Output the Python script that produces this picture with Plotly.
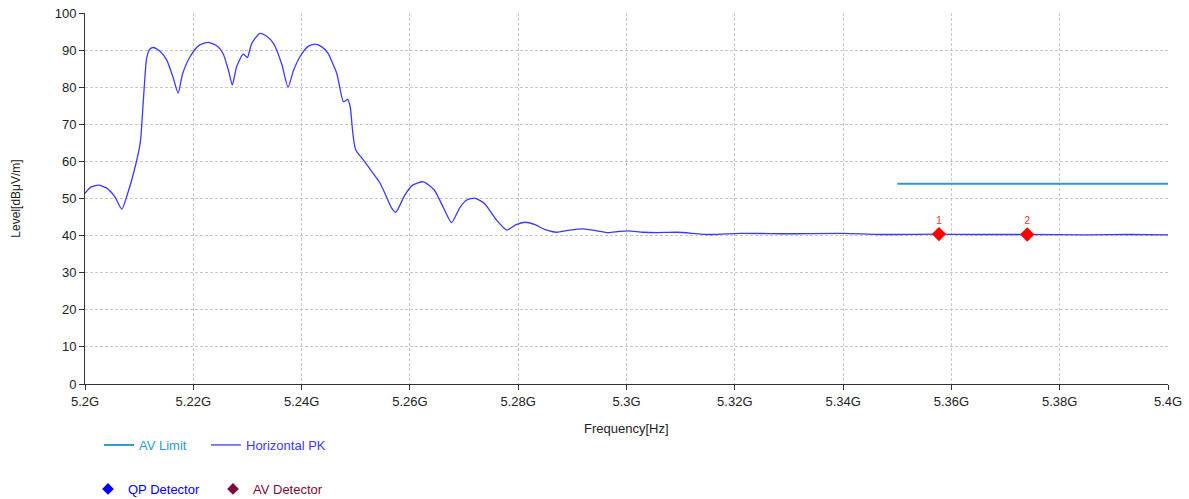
import plotly.graph_objects as go

# ---- data (frequency in GHz, level in dBµV/m) ----
pk_freq = [5.2000, 5.2010, 5.2025, 5.2040, 5.2055, 5.2068, 5.2078, 5.2090, 5.2102, 5.2108,
           5.2114, 5.2120, 5.2127, 5.2140, 5.2151, 5.2163, 5.2172, 5.2180, 5.2194, 5.2210,
           5.2228, 5.2245, 5.2255, 5.2265, 5.2272, 5.2280, 5.2292, 5.2296, 5.2300, 5.2308,
           5.2323, 5.2335, 5.2348, 5.2363, 5.2375, 5.2385, 5.2397, 5.2412, 5.2425, 5.2438,
           5.2449, 5.2457, 5.2465, 5.2477, 5.2481, 5.2485, 5.2490, 5.2493, 5.2496, 5.2500,
           5.2514, 5.2530, 5.2545, 5.2555, 5.2566, 5.2574, 5.2590, 5.2605, 5.2625, 5.2645,
           5.2662, 5.2677, 5.2692, 5.2705, 5.2720, 5.2738, 5.2760, 5.2779, 5.2795, 5.2813,
           5.2830, 5.2850, 5.2871, 5.2895, 5.2920, 5.2945, 5.2966, 5.2985, 5.3003, 5.3030,
           5.3056, 5.3093, 5.3154, 5.3210, 5.3300, 5.3400, 5.3468, 5.3577, 5.3650, 5.3740,
           5.3850, 5.3930, 5.4000]
pk_level = [51.4, 53.0, 53.6, 52.8, 50.5, 47.1, 51.0, 57.0, 65.0, 77.0,
            88.0, 90.3, 90.7, 89.5, 87.3, 82.5, 78.4, 83.5, 88.2, 91.2,
            92.1, 91.0, 89.1, 84.5, 80.6, 85.5, 88.9, 88.5, 88.0, 91.8,
            94.5, 93.8, 91.8, 86.4, 80.0, 84.5, 88.2, 91.0, 91.6, 90.8,
            89.1, 86.5, 83.7, 76.1, 76.3, 76.7, 74.5, 70.0, 66.0, 63.1,
            60.4, 57.2, 54.1, 51.0, 47.5, 46.3, 50.8, 53.6, 54.5, 52.3,
            47.5, 43.5, 47.5, 49.6, 50.1, 48.6, 44.2, 41.5, 42.9, 43.6,
            43.0, 41.6, 40.9, 41.5, 41.8, 41.3, 40.8, 41.1, 41.3, 40.9,
            40.8, 40.9, 40.3, 40.6, 40.5, 40.6, 40.3, 40.4, 40.3, 40.3,
            40.2, 40.3, 40.2]

limit_freq = [5.35, 5.40]
limit_level = [54.0, 54.0]

mark_freq = [5.3577, 5.3740]
mark_level = [40.4, 40.3]
mark_labels = ["1", "2"]

x_tickvals = [5.20, 5.22, 5.24, 5.26, 5.28, 5.30, 5.32, 5.34, 5.36, 5.38, 5.40]
x_ticktext = ["5.2G", "5.22G", "5.24G", "5.26G", "5.28G", "5.3G", "5.32G", "5.34G", "5.36G", "5.38G", "5.4G"]
y_tickvals = [0, 10, 20, 30, 40, 50, 60, 70, 80, 90, 100]

FONT = "Liberation Sans, Arial, sans-serif"
C_LIMIT = "#2b9ad0"
C_PK = "#3a3aff"
C_QP = "#0000ff"
C_AV = "#7a0a3c"

W, H = 1189, 499
M_L, M_R, M_T, M_B = 85, 21, 13, 115
PLOT_H = H - M_T - M_B

fig = go.Figure()

fig.add_trace(go.Scatter(
    x=limit_freq, y=limit_level, mode="lines",
    line=dict(color=C_LIMIT, width=2),
    name=f"<span style='color:{C_LIMIT}'>AV Limit</span>", legend="legend"))

fig.add_trace(go.Scatter(
    x=pk_freq, y=pk_level, mode="lines",
    line=dict(color=C_PK, width=1.3, shape="spline", smoothing=0.6),
    name=f"<span style='color:{C_PK}'>Horizontal PK</span>", legend="legend2"))

fig.add_trace(go.Scatter(
    x=mark_freq, y=mark_level, mode="markers+text",
    marker=dict(symbol="diamond", color="#ff0000", size=11),
    text=mark_labels, textposition="top center",
    textfont=dict(color="#ff3030", size=10, family=FONT),
    showlegend=False))

fig.add_trace(go.Scatter(
    x=[None], y=[None], mode="markers",
    marker=dict(symbol="diamond", color=C_QP, size=9),
    name=f"<span style='color:{C_QP}'>QP Detector</span>", legend="legend3"))

fig.add_trace(go.Scatter(
    x=[None], y=[None], mode="markers",
    marker=dict(symbol="diamond", color=C_AV, size=9),
    name=f"<span style='color:{C_AV}'>AV Detector</span>", legend="legend4"))

legend_common = dict(orientation="h", xanchor="left", yanchor="middle",
                     xref="container", yref="container",
                     font=dict(family=FONT, size=13),
                     bgcolor="rgba(0,0,0,0)", itemclick=False)

row1_y = 1 - 445 / H
row2_y = 1 - 489 / H

fig.update_layout(
    width=W, height=H,
    margin=dict(l=M_L, r=M_R, t=M_T, b=M_B),
    paper_bgcolor="white", plot_bgcolor="white",
    font=dict(family=FONT, size=13, color="#222"),
    legend=dict(x=99 / W, y=row1_y, **legend_common),
    legend2=dict(x=206 / W, y=row1_y, **legend_common),
    legend3=dict(x=88 / W, y=row2_y, **legend_common),
    legend4=dict(x=213 / W, y=row2_y, **legend_common),
    xaxis=dict(
        range=[5.2, 5.4], tickvals=x_tickvals, ticktext=x_ticktext,
        automargin=False,
        showgrid=True, gridcolor="#c8c8c8", griddash="3px,2px", gridwidth=1,
        showline=True, linecolor="#333", linewidth=1,
        ticks="outside", ticklen=5, tickcolor="#333",
        tickfont=dict(size=13, color="#222"),
        zeroline=False),
    yaxis=dict(
        range=[0, 100], tickvals=y_tickvals,
        automargin=False, ticklabeloverflow="allow",
        showgrid=True, gridcolor="#c8c8c8", griddash="3px,2px", gridwidth=1,
        showline=True, linecolor="#333", linewidth=1,
        ticks="outside", ticklen=5, tickcolor="#333",
        tickfont=dict(size=13, color="#222"),
        title=dict(text="Level[dBμV/m]", font=dict(size=12, color="#222"), standoff=31),
        zeroline=False),
    annotations=[dict(
        text="Frequency[Hz]", xref="paper", x=0.5,
        yref="paper", y=-(428 - (H - M_B)) / PLOT_H,
        xanchor="center", yanchor="middle", showarrow=False,
        font=dict(family=FONT, size=13, color="#222"))],
)

# remove the default 8px page margin so the figure fills the window exactly
fig.write_html("out.html", config={"displayModeBar": False},
               post_script="document.body.style.margin='0';")
